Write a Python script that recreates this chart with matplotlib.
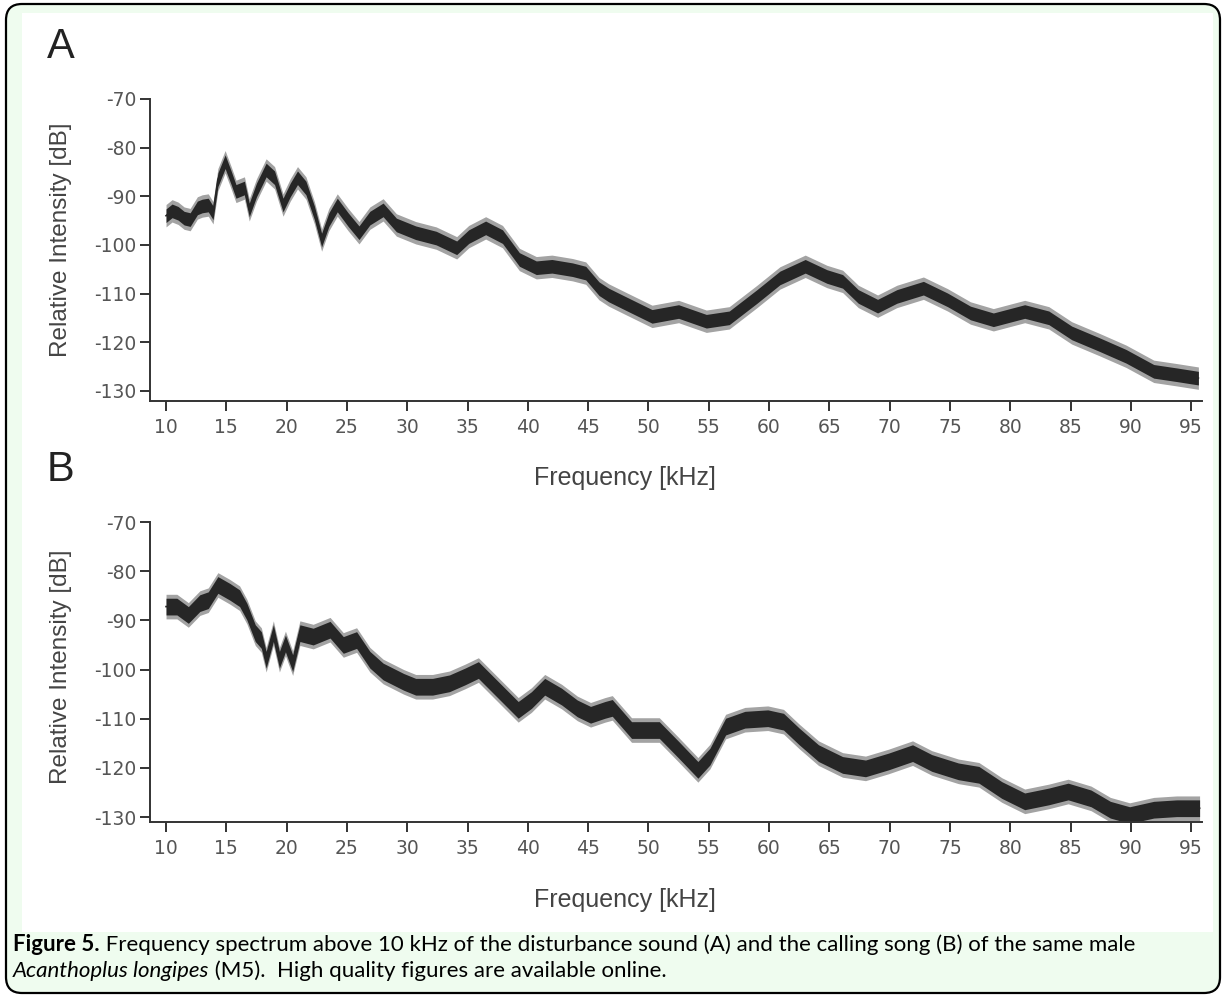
import numpy as np
import matplotlib.pyplot as plt
from matplotlib.patches import FancyBboxPatch, Rectangle
from matplotlib.transforms import IdentityTransform

plt.rcParams['axes.unicode_minus'] = False

# --- data (centre of the noisy trace) ---
# A: disturbance sound
freq_a = [10.0, 10.5, 11.0, 11.5, 12.0, 12.6, 13.0, 13.5, 13.9, 14.3, 14.9, 15.4, 15.8,
          16.5, 16.9, 17.5, 18.3, 19.0, 19.7, 20.3, 20.9, 21.6, 22.3, 22.9, 23.5, 24.2,
          25.1, 26.0, 26.9, 28.0, 29.1, 30.7, 32.4, 34.1, 35.1, 36.5, 37.9, 39.3, 40.7,
          42.0, 43.7, 44.8, 45.9, 46.7, 48.0, 50.3, 52.5, 54.8, 56.7, 59.0, 60.9, 63.0,
          64.8, 66.1, 67.4, 69.0, 70.6, 72.8, 74.8, 76.7, 78.6, 81.2, 83.2, 85.1, 87.4,
          89.6, 91.9, 93.8, 95.6]
db_a = [-94.0, -93.0, -93.5, -94.5, -94.8, -92.4, -92.0, -91.8, -93.4, -86.6, -82.9, -86.2, -89.0,
        -88.3, -92.8, -88.7, -84.6, -86.2, -91.8, -88.7, -86.2, -88.3, -93.4, -99.0, -94.8, -91.8,
        -94.8, -97.5, -94.5, -92.8, -95.9, -97.5, -98.6, -100.6, -98.3, -96.5, -98.3, -103.0, -104.7,
        -104.4, -105.1, -105.8, -109.0, -110.3, -111.9, -114.7, -113.7, -115.7, -115.0, -110.6, -106.8, -104.4,
        -106.5, -107.5, -110.6, -112.6, -110.6, -108.9, -111.3, -114.0, -115.4, -113.7, -115.0, -118.1, -120.5,
        -122.9, -126.0, -126.7, -127.4]

# B: calling song
freq_b = [10.0, 10.9, 11.85, 12.8, 13.5, 14.3, 15.3, 16.1, 16.7, 17.4, 17.9, 18.3, 18.9,
          19.4, 19.9, 20.5, 21.1, 22.2, 23.6, 24.7, 25.8, 26.9, 28.0, 29.7, 30.7, 32.1,
          33.5, 34.8, 35.9, 37.0, 38.1, 39.2, 40.3, 41.4, 42.8, 44.1, 45.2, 46.4, 47.0,
          48.6, 50.9, 52.5, 54.1, 55.1, 56.4, 58.0, 59.9, 61.2, 62.5, 64.1, 66.1, 68.0,
          69.9, 71.9, 73.5, 75.7, 77.4, 79.3, 81.2, 83.2, 84.8, 86.7, 88.3, 89.9, 91.9,
          93.8, 95.7]
db_b = [-87.2, -87.2, -88.9, -86.5, -85.9, -82.8, -84.2, -85.5, -88.2, -92.6, -94.0, -98.0, -92.6,
        -98.0, -94.7, -98.7, -92.6, -93.3, -91.9, -95.0, -94.0, -98.0, -100.4, -102.5, -103.5, -103.5,
        -102.8, -101.4, -100.1, -102.8, -105.5, -108.2, -106.2, -103.5, -105.5, -107.9, -109.2, -108.2, -107.8,
        -112.3, -112.3, -116.3, -120.4, -117.7, -111.6, -110.2, -109.9, -110.6, -113.6, -117.0, -119.4, -120.1,
        -118.7, -117.0, -119.0, -120.7, -121.4, -124.5, -126.8, -125.8, -124.8, -126.2, -128.5, -129.6, -128.5,
        -128.2, -128.2]

x_ticks = list(range(10, 100, 5))
y_ticks = list(range(-130, -60, 10))

W, H = 1224, 997
fig = plt.figure(figsize=(W / 100, H / 100), dpi=100)
fig.patch.set_facecolor('white')
px = IdentityTransform()

# framed page background
fig.add_artist(FancyBboxPatch((6, 4), 1214, 989, boxstyle="round,pad=0,rounding_size=16",
                              transform=px, facecolor='#effcef', edgecolor='black',
                              lw=1.6, zorder=-10))
fig.add_artist(Rectangle((22, H - 932), 1191, 919, transform=px,
                         facecolor='white', edgecolor='none', zorder=-9))


def draw_panel(ax, f, d, ylo, core, fringe):
    f = np.array(f)
    d = np.array(d)
    ax.fill_between(f, d - fringe, d + fringe, color='#333333', alpha=0.45, lw=0)
    ax.fill_between(f, d - core, d + core, color='#262626', lw=0)
    ax.plot(f, d, color='#262626', lw=1.2)
    ax.set_xlim(8.67, 95.9)
    ax.set_ylim(ylo, -70)
    ax.set_facecolor('none')
    for s in ['top', 'right']:
        ax.spines[s].set_visible(False)
    for s in ['left', 'bottom']:
        ax.spines[s].set_color('#333333')
        ax.spines[s].set_linewidth(1.4)
    ax.set_xticks(x_ticks)
    ax.set_yticks(y_ticks)
    ax.tick_params(direction='out', length=7, width=1.4, color='#333333',
                   labelcolor='#555555', labelsize=13.5)
    ax.tick_params(axis='x', pad=5)
    ax.tick_params(axis='y', pad=3)


ax_a = fig.add_axes([150 / W, 1 - 401 / H, 1052 / W, 302 / H])
ax_b = fig.add_axes([150 / W, 1 - 822 / H, 1052 / W, 300 / H])
draw_panel(ax_a, freq_a, db_a, -132.1, 1.4, 2.3)
draw_panel(ax_b, freq_b, db_b, -131.0, 1.7, 2.5)

lab_font = 'Liberation Sans'
for (ly, yc, xc, letter) in [(47, 240, 478, 'A'), (470, 667, 900, 'B')]:
    fig.text(61, H - ly, letter, transform=px, ha='center', va='center',
             fontsize=30, color='#222222', family=lab_font)
    fig.text(61, H - yc, 'Relative Intensity [dB]', transform=px, rotation=90,
             ha='center', va='center', fontsize=17.5, color='#444444', family=lab_font)
    fig.text(625, H - xc, 'Frequency [kHz]', transform=px, ha='center', va='center',
             fontsize=18, color='#444444', family=lab_font)

# caption with mixed styles
cap_font = 'Lato'
cap_size = 16
renderer = fig.canvas.get_renderer()
lines = [
    (951, [('Figure 5.', 'bold', 'normal'),
           (' Frequency spectrum above 10 kHz of the disturbance sound (A) and the calling song (B) of the same male',
            'normal', 'normal')]),
    (977, [('Acanthoplus longipes', 'normal', 'italic'),
           (' (M5).  High quality figures are available online.', 'normal', 'normal')]),
]
for yb, parts in lines:
    x = 13
    for txt, wt, st in parts:
        t = fig.text(x, H - yb, txt, transform=px, ha='left', va='baseline',
                     fontsize=cap_size, fontweight=wt, fontstyle=st,
                     family=cap_font, color='black')
        x += t.get_window_extent(renderer).width

fig.savefig('out.png', dpi=100)
